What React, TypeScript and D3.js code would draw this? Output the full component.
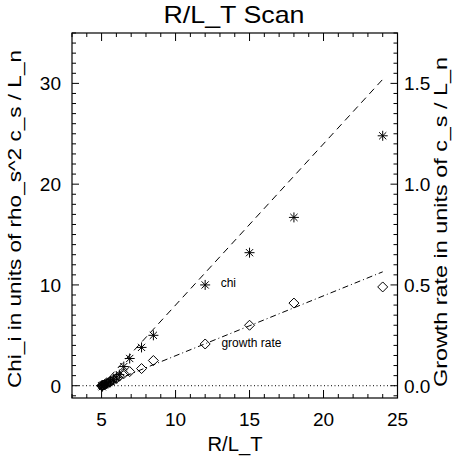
import React from "react";
import * as d3 from "d3";

const rlt = [5.0, 5.05, 5.1, 5.2, 5.35, 5.5, 5.6, 5.8, 6.0, 6.2, 6.5, 6.9, 7.7, 8.5, 12, 15, 18, 24];
const chi = [0, -0.1, 0.05, 0.1, 0.2, 0.35, 0.45, 0.6, 0.85, 1.1, 1.9, 2.7, 3.8, 5.0, 10.0, 13.2, 16.7, 24.8];
const growth = [0, 0.0, 0.003, 0.006, 0.011, 0.016, 0.02, 0.028, 0.036, 0.047, 0.06, 0.07, 0.085, 0.125, 0.207, 0.30, 0.41, 0.49];
const fitX = [5, 24];
const chiFit = [0, 30.4];
const growthFit = [0, 0.565];
const xTicks = [5, 10, 15, 20, 25];
const yLTicks = [0, 10, 20, 30];
const yRTicks = [0, 0.5, 1.0, 1.5];

const W = 454, H = 459;
const L = 72, R = 397.5, T = 33, B = 398;
const FONT = "'Liberation Sans', Arial, sans-serif";

export default function App() {
  const x = d3.scaleLinear().domain([3, 25]).range([L, R]);
  const yL = d3.scaleLinear().domain([-1.22, 35]).range([B, T]);
  const yR = d3.scaleLinear().domain([-0.061, 1.75]).range([B, T]);

  const xMinor = d3.range(3, 25.01, 1);
  const yLMinor = d3.range(-1, 35.01, 1);
  const line = d3.line<[number, number]>().x(d => d[0]).y(d => d[1]);

  const chiFitPts: [number, number][] = fitX.map((v, i) => [x(v), yL(chiFit[i])]);
  const grFitPts: [number, number][] = fitX.map((v, i) => [x(v), yR(growthFit[i])]);

  const star = (cx: number, cy: number, k: number) => {
    const r = 5, d = 3.6;
    return (
      <g key={k} stroke="#000" strokeWidth={1}>
        <line x1={cx - r} y1={cy} x2={cx + r} y2={cy} />
        <line x1={cx} y1={cy - r} x2={cx} y2={cy + r} />
        <line x1={cx - d} y1={cy - d} x2={cx + d} y2={cy + d} />
        <line x1={cx - d} y1={cy + d} x2={cx + d} y2={cy - d} />
      </g>
    );
  };
  const diamond = (cx: number, cy: number, k: number) => {
    const r = 5;
    return (
      <path key={k} d={`M${cx - r},${cy}L${cx},${cy - r}L${cx + r},${cy}L${cx},${cy + r}Z`} fill="none" stroke="#000" strokeWidth={1} />
    );
  };

  return (
    <svg width={W} height={H} style={{ position: "absolute", left: 0, top: 0, background: "#fff" }} fontFamily={FONT}>
      <rect x={0} y={0} width={W} height={H} fill="#fff" />
      {/* title */}
      <text x={234} y={23} fontSize={24} textAnchor="middle" textLength={141} lengthAdjust="spacingAndGlyphs">R/L_T Scan</text>

      {/* frame */}
      <rect x={L} y={T} width={R - L} height={B - T} fill="none" stroke="#000" strokeWidth={1.2} />

      {/* x ticks bottom and top */}
      {xMinor.map(v => {
        const major = xTicks.includes(v);
        const len = major ? 8 : 4;
        return (
          <g key={"xt" + v} stroke="#000" strokeWidth={1}>
            <line x1={x(v)} x2={x(v)} y1={B} y2={B - len} />
            <line x1={x(v)} x2={x(v)} y1={T} y2={T + len} />
          </g>
        );
      })}
      {xTicks.map(v => (
        <text key={"xl" + v} x={x(v)} y={426} fontSize={19} textAnchor="middle">{v}</text>
      ))}

      {/* left / right y ticks */}
      {yLMinor.map(v => {
        const major = yLTicks.includes(v);
        const len = major ? 7 : 4;
        return (
          <g key={"yt" + v} stroke="#000" strokeWidth={1}>
            <line x1={L} x2={L + len} y1={yL(v)} y2={yL(v)} />
            <line x1={R} x2={R - len} y1={yL(v)} y2={yL(v)} />
          </g>
        );
      })}
      {yLTicks.map(v => (
        <text key={"yl" + v} x={61} y={yL(v) + 7} fontSize={19} textAnchor="end">{v}</text>
      ))}
      {yRTicks.map(v => (
        <text key={"yr" + v} x={404} y={yR(v) + 7} fontSize={19} textAnchor="start">{v.toFixed(1)}</text>
      ))}

      {/* axis titles */}
      <text x={235} y={451} fontSize={21} textAnchor="middle" textLength={55} lengthAdjust="spacingAndGlyphs">R/L_T</text>
      <text transform={`translate(21,219) rotate(-90)`} fontSize={19} textAnchor="middle" textLength={338} lengthAdjust="spacingAndGlyphs">Chi_i in units of rho_s^2 c_s / L_n</text>
      <text transform={`translate(447,222) rotate(-90)`} fontSize={19} textAnchor="middle" textLength={330} lengthAdjust="spacingAndGlyphs">Growth rate in units of c_s / L_n</text>

      {/* zero dotted line */}
      <line x1={L} x2={R} y1={yL(0)} y2={yL(0)} stroke="#000" strokeWidth={1} strokeDasharray="1,2.5" />

      {/* fits */}
      <path d={line(chiFitPts) || ""} fill="none" stroke="#000" strokeWidth={1} strokeDasharray="7,5" />
      <path d={line(grFitPts) || ""} fill="none" stroke="#000" strokeWidth={1} strokeDasharray="6,3,1,3" />

      {/* points */}
      {rlt.map((v, i) => star(x(v), yL(chi[i]), i))}
      {rlt.map((v, i) => diamond(x(v), yR(growth[i]), i))}

      {/* annotations */}
      <text x={x(13.05)} y={yL(10.2) + 4} fontSize={12}>chi</text>
      <text x={x(13.1)} y={yR(0.213) + 4} fontSize={12}>growth rate</text>
    </svg>
  );
}
